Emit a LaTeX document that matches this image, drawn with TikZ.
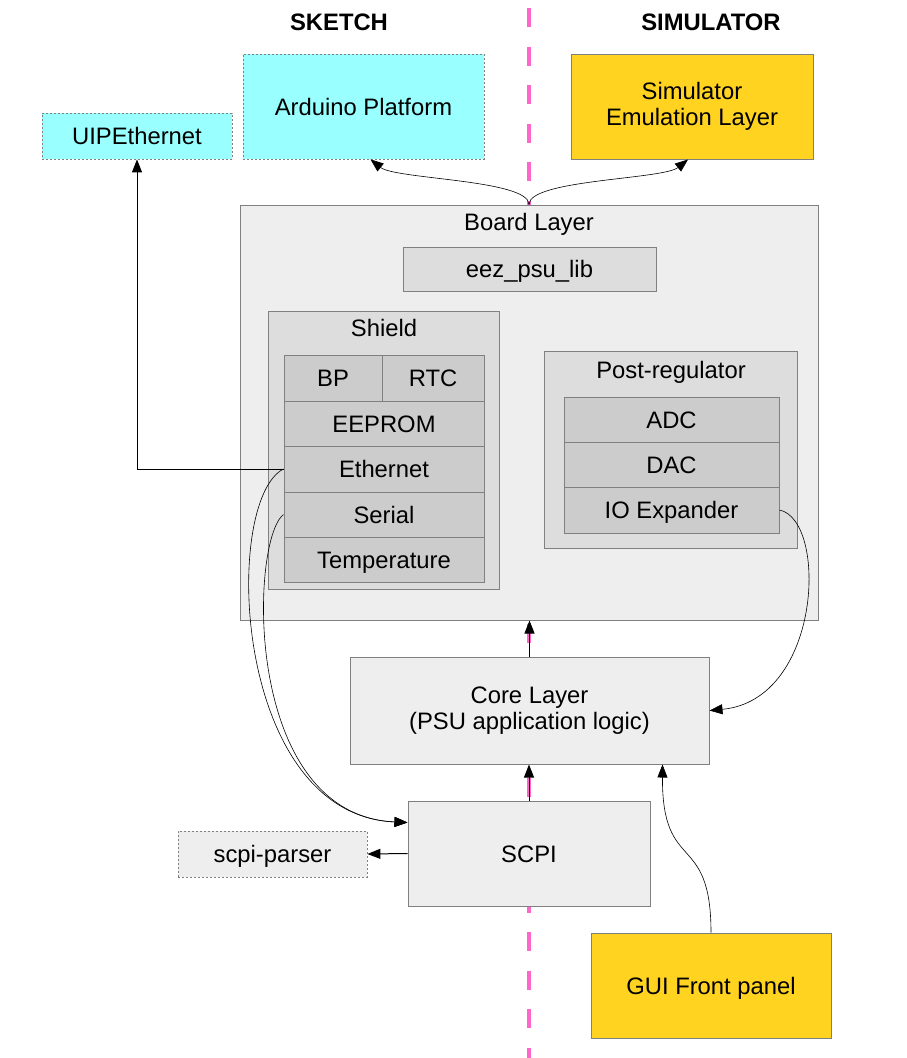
\documentclass[tikz,border=0pt]{standalone}
\usepackage{fontspec}
\setmainfont{Liberation Sans}
\usetikzlibrary{arrows.meta}
\definecolor{cyanbox}{HTML}{99FFFF}
\definecolor{yellowbox}{HTML}{FFD320}
\definecolor{gA}{HTML}{EEEEEE}
\definecolor{gB}{HTML}{DDDDDD}
\definecolor{gC}{HTML}{CCCCCC}
\definecolor{bord}{HTML}{808080}
\definecolor{pinkline}{HTML}{FF66CC}
\begin{document}
\begin{tikzpicture}[x=1pt,y=-1pt,
  font=\fontsize{23.8}{26}\selectfont,
  box/.style={draw=bord, line width=1pt, inner sep=0pt, align=center},
  one/.style={text height=17pt, text depth=0pt},
  dotbox/.style={box, dash pattern=on 2pt off 2pt, line width=0.8pt},
  lbl/.style={inner sep=0pt, text height=17pt, text depth=0pt},
  title/.style={lbl, font=\fontsize{23.8}{26}\selectfont\bfseries},
  tip/.style={-{Triangle[length=13pt,width=10pt]}},
  straight/.style={tip, line width=1pt, black},
  curvy/.style={tip, line width=0.6pt, black}]
\useasboundingbox (0,0) rectangle (907,1058);

% separator
\coordinate (septop) at (529,8);
\coordinate (sepbot) at (529,1058);
\draw[pinkline, line width=3.5pt, dash pattern=on 19.25pt off 19.25pt] (septop) -- (sepbot);

% titles
\node[title] (tsketch) at (339,22) {SKETCH};
\node[title] (tsim) at (711,22) {SIMULATOR};

% top boxes
\node[dotbox, fill=cyanbox, one, minimum width=241pt, minimum height=105pt] (ard) at (363.5,106.5) {Arduino Platform};
\node[box, fill=yellowbox, minimum width=242pt, minimum height=105pt] (sim) at (692,106.5) {Simulator\\Emulation Layer};
\node[dotbox, fill=cyanbox, one, minimum width=190pt, minimum height=46pt] (uip) at (137,136) {UIPEthernet};

% board layer
\node[box, fill=gA, minimum width=578pt, minimum height=415pt] (board) at (529,412.5) {};
\node[lbl] (boardlbl) at (529,222) {Board Layer};
\node[box, fill=gB, one, minimum width=253pt, minimum height=44pt] (eez) at (529.5,269) {eez\_psu\_lib};

% shield
\node[box, fill=gB, minimum width=231pt, minimum height=278pt] (shield) at (383.5,450) {};
\node[lbl] (shieldlbl) at (384,328) {Shield};
\node[box, fill=gC, one, minimum width=98pt, minimum height=46pt] (bp) at (333,378) {BP};
\node[box, fill=gC, one, minimum width=102pt, minimum height=46pt] (rtc) at (433,378) {RTC};
\node[box, fill=gC, one, minimum width=200pt, minimum height=45pt] (eeprom) at (384,423.5) {EEPROM};
\node[box, fill=gC, one, minimum width=200pt, minimum height=46pt] (eth) at (384,469) {Ethernet};
\node[box, fill=gC, one, minimum width=200pt, minimum height=45pt] (serial) at (384,514.5) {Serial};
\node[box, fill=gC, one, minimum width=200pt, minimum height=45pt] (temp) at (384,559.5) {Temperature};

% post-regulator
\node[box, fill=gB, minimum width=253pt, minimum height=197pt] (post) at (670.5,449.5) {};
\node[lbl] (postlbl) at (671,370) {Post-regulator};
\node[box, fill=gC, one, minimum width=215pt, minimum height=45pt] (adc) at (671.5,419.5) {ADC};
\node[box, fill=gC, one, minimum width=215pt, minimum height=45pt] (dac) at (671.5,464.5) {DAC};
\node[box, fill=gC, one, minimum width=215pt, minimum height=46pt] (io) at (671.5,510) {IO Expander};

% core, scpi, etc.
\node[box, fill=gA, minimum width=359pt, minimum height=107pt] (core) at (529.5,710.5) {Core Layer\\(PSU application logic)};
\node[box, fill=gA, one, minimum width=242pt, minimum height=105pt] (scpi) at (529,853.5) {SCPI};
\node[dotbox, fill=gA, one, minimum width=189pt, minimum height=46pt] (parser) at (272.5,854) {scpi-parser};
\node[box, fill=yellowbox, one, minimum width=240pt, minimum height=105pt] (gui) at (711,985.5) {GUI Front panel};

% connectors
\draw[curvy] (board.north) .. controls +(0,-25) and +(25,20) .. ([xshift=7pt]ard.south);
\draw[curvy] (board.north) .. controls +(0,-25) and +(-25,20) .. ([xshift=-4pt]sim.south);
\draw[straight] (eth.west) -| (uip.south);
\draw[curvy] (eth.west) .. controls (222,500) and (232,815) .. ([yshift=31pt]scpi.west);
\draw[curvy] (serial.west) .. controls (250,540) and (242,815) .. ([yshift=31pt]scpi.west);
\draw[curvy] (io.east) .. controls (828,520) and (822,700) .. (core.east);
\draw[straight] (core.north) -- (core.north |- board.south);
\draw[straight] (scpi.north) -- (scpi.north |- core.south);
\draw[straight] (scpi.west) -- (parser.east);
\draw[curvy] (gui.north) .. controls (711,830) and (662,875) .. ([xshift=-47pt]core.south east);
\end{tikzpicture}
\end{document}
